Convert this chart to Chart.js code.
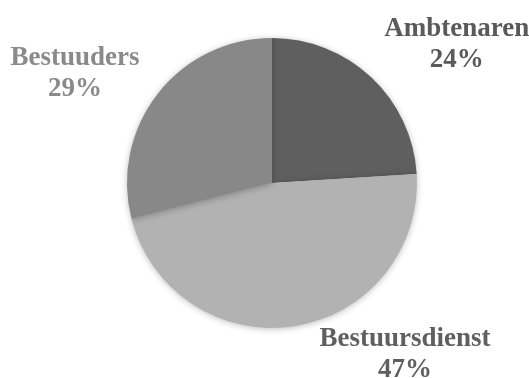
<!DOCTYPE html>
<html>
<head>
<meta charset="utf-8">
<script src="https://cdn.jsdelivr.net/npm/chart.js@4"></script>
<style>
    html, body { margin: 0; padding: 0; background: #fff; }
    #wrap { width: 529px; height: 378px; }
</style>
</head>
<body>
<div id="wrap"><canvas id="pie-chart" width="529" height="378"></canvas></div>
<script>
// Data
const categories = ['Ambtenaren', 'Bestuursdienst', 'Bestuuders'];
const shares = [24, 47, 29];

const sliceColors = ['#5f5f5f', '#b2b2b2', '#888888'];
const labelColors = ['#5a5a5a', '#5f5f5f', '#8a8a8a'];
// label anchor: angle offset from slice middle (deg) and distance from centre (px)
const labelPlacement = [
    { angle: 9.6, dist: 232 },
    { angle: -29.0, dist: 216 },
    { angle: -8.5, dist: 226 }
];

const pieLabels = {
    id: 'pieLabels',
    afterDatasetsDraw(chart) {
        const ctx = chart.ctx;
        const meta = chart.getDatasetMeta(0);
        ctx.save();
        ctx.font = 'bold 27px "Liberation Serif", "Times New Roman", serif';
        ctx.textAlign = 'center';
        ctx.textBaseline = 'alphabetic';
        meta.data.forEach((arc, i) => {
            const p = labelPlacement[i];
            const mid = (arc.startAngle + arc.endAngle) / 2 + p.angle * Math.PI / 180;
            const x = arc.x + Math.cos(mid) * p.dist;
            const y = arc.y + Math.sin(mid) * p.dist;
            ctx.fillStyle = labelColors[i];
            ctx.fillText(categories[i], x, y - 7);
            ctx.fillText(shares[i] + '%', x, y + 24);
        });
        ctx.restore();
    }
};

const pieShadow = {
    id: 'pieShadow',
    beforeDatasetsDraw(chart) {
        const ctx = chart.ctx;
        ctx.save();
        ctx.shadowColor = 'rgba(0,0,0,0.25)';
        ctx.shadowBlur = 6;
        ctx.shadowOffsetY = 1;
    },
    afterDatasetsDraw(chart) {
        chart.ctx.restore();
    }
};

const pieCtx = document.getElementById('pie-chart').getContext('2d');
const pieChart = new Chart(pieCtx, {
    type: 'pie',
    data: {
        labels: categories,
        datasets: [{
            data: shares,
            backgroundColor: sliceColors,
            borderColor: sliceColors,
            borderWidth: 0
        }]
    },
    options: {
        responsive: false,
        animation: false,
        layout: {
            padding: { top: 38, bottom: 50, left: 127, right: 112 }
        },
        plugins: {
            legend: { display: false },
            tooltip: { enabled: false }
        }
    },
    plugins: [pieShadow, pieLabels]
});
</script>
</body>
</html>
